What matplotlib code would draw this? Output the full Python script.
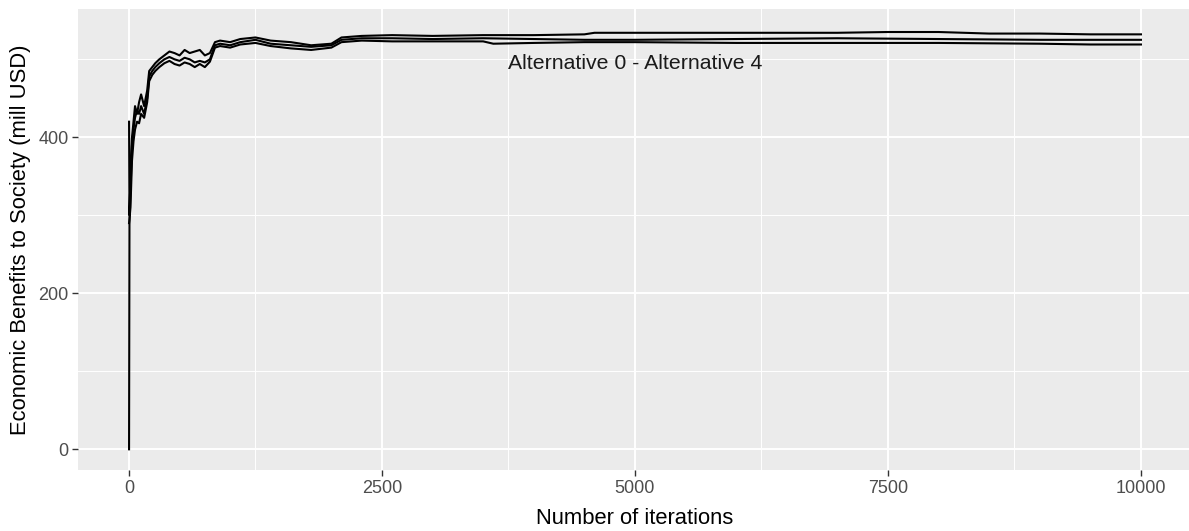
import matplotlib
matplotlib.use("Agg")
import matplotlib.pyplot as plt

# Running mean of economic benefits per iteration, three simulation runs
iter_a = [1, 5, 15, 30, 45, 60, 80, 100, 120, 150, 180, 200, 230, 260, 300, 350, 400, 450,
          500, 550, 600, 650, 700, 750, 800, 850, 900, 1000, 1100, 1250, 1400, 1600, 1800,
          2000, 2100, 2300, 2600, 3000, 3500, 4000, 4500, 4600, 5000, 6000, 7000, 7500,
          8000, 8500, 9000, 9500, 10000]
value_a = [420, 300, 350, 400, 420, 440, 430, 445, 455, 440, 460, 485, 490, 495, 500, 505,
           510, 508, 505, 512, 508, 510, 512, 505, 508, 522, 524, 522, 526, 528, 524, 522,
           518, 520, 528, 530, 531, 530, 531, 531, 532, 534, 534, 534, 534, 535, 535, 533,
           533, 532, 532]

iter_b = [1, 5, 15, 30, 45, 60, 80, 100, 120, 150, 180, 200, 230, 260, 300, 350, 400, 450,
          500, 550, 600, 650, 700, 750, 800, 850, 900, 1000, 1100, 1250, 1400, 1600, 1800,
          2000, 2100, 2300, 2600, 3000, 3500, 4000, 4500, 5000, 6000, 7000, 8000, 9000, 10000]
value_b = [0, 290, 330, 390, 410, 425, 435, 430, 440, 430, 450, 478, 485, 490, 495, 500,
           503, 500, 498, 502, 500, 496, 498, 496, 500, 518, 520, 518, 522, 525, 520, 518,
           516, 518, 525, 527, 527, 526, 527, 526, 525, 525, 526, 527, 526, 525, 525]

iter_c = [1, 5, 15, 30, 45, 60, 80, 100, 120, 150, 180, 200, 230, 260, 300, 350, 400, 450,
          500, 550, 600, 650, 700, 750, 800, 850, 900, 1000, 1100, 1250, 1400, 1600, 1800,
          2000, 2100, 2300, 2600, 3000, 3500, 3600, 4000, 4500, 5000, 6000, 7000, 8000,
          9000, 9500, 10000]
value_c = [290, 295, 310, 370, 395, 410, 420, 418, 430, 425, 445, 472, 480, 485, 490, 495,
           498, 494, 492, 496, 494, 490, 494, 490, 497, 515, 517, 515, 519, 521, 517, 514,
           512, 515, 522, 524, 523, 523, 523, 520, 521, 522, 522, 521, 521, 521, 520, 519,
           519]

x_ticks = [0, 2500, 5000, 7500, 10000]
x_minor = [1250, 3750, 6250, 8750]
y_ticks = [0, 200, 400]
y_minor = [100, 300, 500]

plt.rcParams["font.family"] = ["Liberation Sans", "DejaVu Sans"]

fig = plt.figure(figsize=(11.89, 5.31), dpi=100)
ax = fig.add_axes([0.0659, 1 - 470.3 / 531, 1113.2 / 1189, (470.3 - 9) / 531])
ax.set_facecolor("#EBEBEB")
for s in ax.spines.values():
    s.set_visible(False)

ax.set_xlim(-500, 10500)
ax.set_ylim(-26.9, 564.5)

for v in x_minor:
    ax.axvline(v, color="white", lw=0.7, zorder=0)
for v in y_minor:
    ax.axhline(v, color="white", lw=0.7, zorder=0)
for v in x_ticks:
    ax.axvline(v, color="white", lw=1.4, zorder=0)
for v in y_ticks:
    ax.axhline(v, color="white", lw=1.4, zorder=0)

for xs, ys in [(iter_a, value_a), (iter_b, value_b), (iter_c, value_c)]:
    ax.plot(xs, ys, color="black", lw=1.5, zorder=3)

ax.set_xticks(x_ticks)
ax.set_xticklabels([str(t) for t in x_ticks])
ax.set_yticks(y_ticks)
ax.set_yticklabels([str(t) for t in y_ticks])
ax.tick_params(axis="both", length=4, width=1.0, color="#333333",
               labelcolor="#4D4D4D", labelsize=13, pad=3)

ax.set_xlabel("Number of iterations", fontsize=15.8, color="black", labelpad=8)
ax.set_ylabel("Economic Benefits to Society (mill USD)", fontsize=15.8, color="black",
              labelpad=5)

ax.text(5000, 495, "Alternative 0 - Alternative 4", ha="center", va="center",
        fontsize=15.3, color="#1A1A1A", zorder=4)

fig.savefig("out.png", dpi=100)
